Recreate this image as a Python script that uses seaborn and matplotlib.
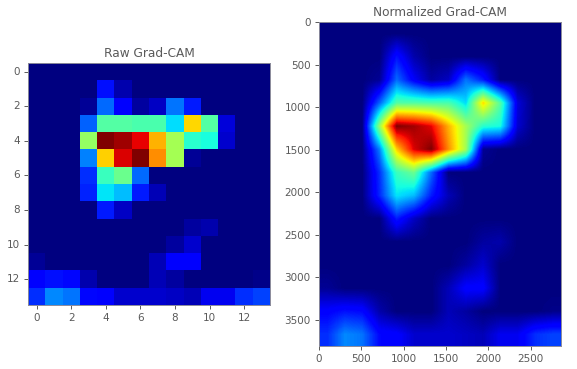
"""Raw and normalized Grad-CAM heatmaps side by side."""

import matplotlib

matplotlib.use("Agg")
import matplotlib.pyplot as plt
import numpy as np
import seaborn as sns

# Activation per cell (rows top to bottom)
row_00 = [0, 0, 0, 0, 0, 0, 0, 0, 0, 0, 0, 0, 0, 0]
row_01 = [0, 0, 0, 0, 0.14, 0.04, 0, 0, 0, 0, 0, 0, 0, 0]
row_02 = [0, 0, 0, 0.02, 0.23, 0.11, 0.03, 0.06, 0.24, 0.15, 0, 0, 0, 0]
row_03 = [0, 0, 0, 0.22, 0.45, 0.45, 0.44, 0.44, 0.34, 0.68, 0.45, 0.08, 0, 0]
row_04 = [0, 0, 0, 0.53, 1.0, 0.97, 0.91, 0.72, 0.55, 0.40, 0.38, 0.07, 0, 0]
row_05 = [0, 0, 0, 0.25, 0.69, 0.92, 1.0, 0.76, 0.55, 0.02, 0, 0, 0, 0]
row_06 = [0, 0, 0, 0.17, 0.42, 0.48, 0.23, 0, 0, 0, 0, 0, 0, 0]
row_07 = [0, 0, 0, 0.16, 0.35, 0.31, 0.15, 0.05, 0, 0, 0, 0, 0, 0]
row_08 = [0, 0, 0, 0, 0.15, 0.06, 0, 0, 0, 0, 0, 0, 0, 0]
row_09 = [0, 0, 0, 0, 0, 0, 0, 0, 0, 0.03, 0.04, 0, 0, 0]
row_10 = [0, 0, 0, 0, 0, 0, 0, 0, 0.03, 0.07, 0, 0, 0, 0]
row_11 = [0.02, 0, 0, 0, 0, 0, 0, 0.05, 0.12, 0.12, 0, 0, 0, 0]
row_12 = [0.12, 0.14, 0.13, 0.04, 0, 0, 0, 0.05, 0.03, 0, 0, 0, 0, 0.01]
row_13 = [0.17, 0.26, 0.24, 0.13, 0.12, 0.07, 0.07, 0.07, 0.06, 0.05, 0.10, 0.10, 0.17, 0.19]

raw_ticks = [0, 2, 4, 6, 8, 10, 12]
norm_xticks = [0, 500, 1000, 1500, 2000, 2500]
norm_yticks = [0, 500, 1000, 1500, 2000, 2500, 3000, 3500]
img_width = 2856
img_height = 3808

cam = np.array(
    [
        row_00, row_01, row_02, row_03, row_04, row_05, row_06,
        row_07, row_08, row_09, row_10, row_11, row_12, row_13,
    ]
)

text_grey = "#5a5a5a"
plt.rcParams["font.family"] = ["DejaVu Sans"]

W, H = 577, 369
fig = plt.figure(figsize=(W / 100, H / 100), dpi=100)
ax_raw = fig.add_axes([28 / W, 1 - 305 / H, 242 / W, 242 / H])
ax_norm = fig.add_axes([319 / W, 1 - 346 / H, 242 / W, 324 / H])

# Raw map
sns.heatmap(cam, cmap="jet", vmin=0, vmax=1, cbar=False, square=True, ax=ax_raw)
ax_raw.set_xticks(np.array(raw_ticks) + 0.5)
ax_raw.set_xticklabels(raw_ticks, rotation=0)
ax_raw.set_yticks(np.array(raw_ticks) + 0.5)
ax_raw.set_yticklabels(raw_ticks, rotation=0)
ax_raw.set_title("Raw Grad-CAM", fontsize=8.7, color=text_grey, pad=4)

# Same map resized to the image size
ax_norm.imshow(
    cam,
    cmap="jet",
    vmin=0,
    vmax=1,
    interpolation="bilinear",
    extent=(0, img_width, img_height, 0),
    aspect="auto",
)
ax_norm.set_xticks(norm_xticks)
ax_norm.set_yticks(norm_yticks)
ax_norm.set_title("Normalized Grad-CAM", fontsize=8.7, color=text_grey, pad=4)

for ax in (ax_raw, ax_norm):
    ax.tick_params(labelsize=7.5, colors=text_grey, length=3, width=0.7, pad=3)
    for spine in ax.spines.values():
        spine.set_visible(True)
        spine.set_color("#8a8a9a")
        spine.set_linewidth(0.7)

fig.savefig("out.png", dpi=100)
